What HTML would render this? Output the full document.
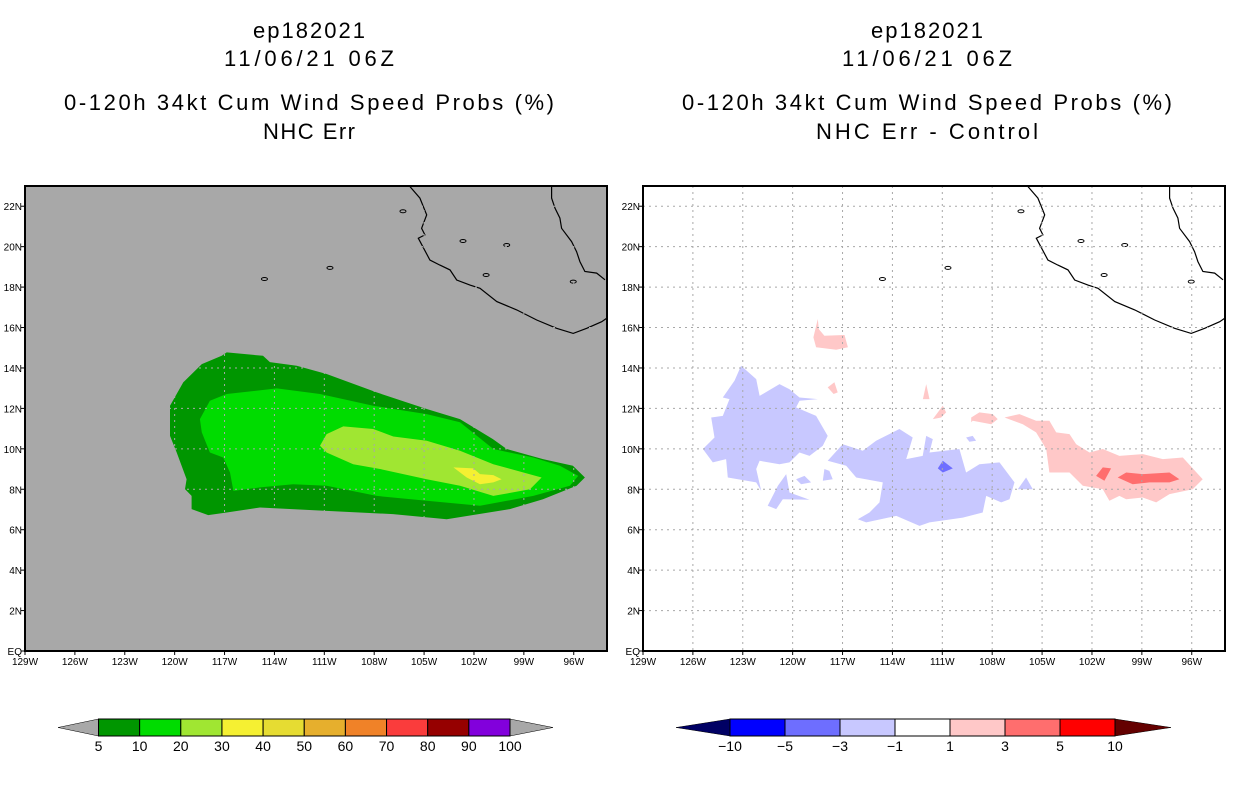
<!DOCTYPE html>
<html><head><meta charset="utf-8"><style>
html,body{margin:0;padding:0;background:#fff;}
svg{display:block;}
text{font-family:"Liberation Sans",sans-serif;fill:#000;}
</style></head><body>
<svg id="fig" width="1236" height="800" viewBox="0 0 1236 800" xmlns="http://www.w3.org/2000/svg"></svg>
<script>
// ---- data ----
const lonTicks = [-129,-126,-123,-120,-117,-114,-111,-108,-105,-102,-99,-96];
const lonLabels = ["129W","126W","123W","120W","117W","114W","111W","108W","105W","102W","99W","96W"];
const latTicks = [0,2,4,6,8,10,12,14,16,18,20,22];
const latLabels = ["EQ","2N","4N","6N","8N","10N","12N","14N","16N","18N","20N","22N"];
const probLevels = ["5","10","20","30","40","50","60","70","80","90","100"];
const probColors = ["#009600","#00dc00","#a0e632","#f5f032","#e6dc32","#e6af2d","#f08228","#fa3c3c","#960000","#8200dc"];
const diffLevels = ["-10","-5","-3","-1","1","3","5","10"];
const diffColors = ["#0000ff","#6e6eff","#c8c8ff","#ffffff","#ffc8c8","#ff6e6e","#ff0000"];
// probability contours [lon,lat]
const prob5 = [[-116.87,14.77],[-114.69,14.6],[-114.27,14.29],[-112.66,14.11],[-110.86,13.7],[-107.85,12.79],[-104.84,11.97],[-102.84,11.47],[-100.86,10.48],[-100.03,9.99],[-97.85,9.49],[-96.05,9.16],[-95.33,8.58],[-95.83,8.17],[-97.85,7.51],[-99.84,7.02],[-103.64,6.52],[-106.87,6.77],[-110.86,6.93],[-114.87,7.1],[-116.87,6.85],[-117.98,6.72],[-118.98,7.02],[-118.98,7.67],[-119.38,8.01],[-119.28,8.5],[-119.88,9.82],[-120.28,10.64],[-120.28,12.13],[-119.48,13.29],[-118.37,14.19],[-117.17,14.6]];
const prob10 = [[-117.88,12.38],[-116.87,12.71],[-113.86,12.99],[-111.26,12.71],[-108.06,12.13],[-104.84,11.72],[-102.84,11.31],[-100.84,9.99],[-98.43,9.57],[-96.83,9.16],[-95.73,8.66],[-96.23,8.17],[-98.43,7.67],[-101.64,7.18],[-104.84,7.43],[-107.85,7.67],[-110.86,8.17],[-112.87,8.25],[-114.87,8.09],[-116.47,7.92],[-116.67,8.83],[-117.08,9.57],[-117.88,9.82],[-118.37,10.81],[-118.48,11.47]];
const prob20 = [[-111.26,10.15],[-110.86,10.73],[-109.86,11.11],[-108.06,10.98],[-106.85,10.61],[-104.84,10.4],[-102.84,9.9],[-100.84,9.24],[-97.93,8.58],[-98.63,8.0],[-100.84,7.67],[-102.84,8.17],[-104.84,8.5],[-107.65,9.0],[-109.26,9.24],[-110.86,9.82]];
const prob30 = [[-103.24,9.08],[-102.04,9.03],[-101.64,8.75],[-100.84,8.7],[-100.34,8.5],[-100.84,8.34],[-101.64,8.25],[-102.44,8.58]];
// difference contours
const diffNeg1 = [
 [[-123.1,14.11],[-122.19,13.45],[-121.99,12.62],[-120.79,13.2],[-120.19,12.95],[-119.59,12.54],[-118.49,12.46],[-119.59,12.38],[-119.79,12.05],[-118.59,11.63],[-117.89,10.64],[-118.19,10.15],[-118.99,9.65],[-119.59,9.82],[-120.19,9.33],[-120.79,9.24],[-121.99,9.41],[-122.19,9.0],[-121.89,7.92],[-122.19,8.34],[-123.9,8.58],[-124.0,9.49],[-124.8,9.33],[-125.4,9.99],[-124.7,10.56],[-124.9,11.55],[-124.2,11.63],[-123.8,12.46],[-124.2,12.54],[-123.5,13.37]],
 [[-121.5,7.18],[-120.99,7.02],[-120.59,7.51],[-118.99,7.48],[-120.19,7.84],[-120.39,8.75],[-120.89,8.17]],
 [[-117.89,9.41],[-116.99,10.23],[-115.78,9.9],[-114.98,10.4],[-113.58,10.98],[-112.78,10.56],[-113.17,9.49],[-112.18,9.65],[-111.97,10.64],[-111.57,10.48],[-111.77,9.82],[-109.97,9.99],[-109.57,8.83],[-108.77,9.24],[-107.56,9.33],[-106.66,8.34],[-106.96,7.51],[-107.46,7.35],[-108.36,7.67],[-108.57,6.85],[-109.77,6.6],[-111.77,6.36],[-112.37,6.19],[-113.77,6.68],[-115.58,6.36],[-116.08,6.52],[-115.38,6.85],[-114.78,7.35],[-114.58,8.34],[-116.18,8.58],[-116.78,9.16]],
 [[-106.46,8.0],[-105.96,8.58],[-105.56,8.0]],
 [[-109.57,10.56],[-109.17,10.64],[-108.97,10.4],[-109.37,10.35]],
 [[-118.09,9.0],[-117.79,8.91],[-117.59,8.5],[-118.19,8.42]],
 [[-119.79,8.5],[-119.29,8.66],[-118.89,8.34],[-119.49,8.25]]
];
const diffNeg3 = [[[-110.97,9.41],[-110.37,9.03],[-110.97,8.83],[-111.27,9.03]]];
const diffPos1 = [
 [[-107.26,11.55],[-106.36,11.72],[-105.36,11.39],[-104.56,11.39],[-104.15,10.81],[-103.35,10.73],[-102.95,10.23],[-102.15,9.82],[-101.35,9.99],[-100.35,9.65],[-98.95,9.74],[-97.74,9.49],[-96.54,9.57],[-95.34,8.5],[-95.94,8.0],[-97.34,7.76],[-98.14,7.35],[-98.95,7.59],[-99.94,7.51],[-100.35,7.67],[-100.95,7.43],[-101.35,8.0],[-102.55,8.17],[-103.35,8.83],[-104.56,8.83],[-104.75,9.99],[-105.36,10.81],[-106.16,11.22]],
 [[-118.49,16.42],[-118.43,15.92],[-118.09,15.59],[-116.88,15.63],[-116.68,15.02],[-117.38,14.9],[-118.59,15.02],[-118.75,15.51]],
 [[-109.26,11.55],[-108.77,11.8],[-107.97,11.72],[-107.67,11.47],[-108.06,11.22],[-109.17,11.39],[-109.26,11.31]],
 [[-111.57,11.47],[-110.97,12.13],[-110.77,11.8],[-111.07,11.55]],
 [[-117.89,13.04],[-117.49,13.29],[-117.29,12.79],[-117.54,12.71]],
 [[-111.97,13.2],[-111.77,12.46],[-112.17,12.46]]
];
const diffPos3 = [
 [[-101.75,8.66],[-101.35,9.08],[-100.85,9.03],[-101.25,8.42]],
 [[-100.45,8.58],[-99.94,8.83],[-98.95,8.75],[-97.34,8.83],[-96.74,8.5],[-97.34,8.34],[-98.54,8.34],[-99.55,8.25]]
];
const coastPacific = [[-105.85,22.97],[-105.25,22.4],[-104.84,21.57],[-105.15,20.91],[-104.95,20.58],[-105.35,20.42],[-104.65,19.34],[-104.05,19.09],[-103.44,18.85],[-103.04,18.35],[-102.24,18.1],[-101.64,17.94],[-100.63,17.28],[-99.43,16.87],[-98.23,16.37],[-97.03,15.96],[-96.03,15.71],[-95.22,15.96],[-94.32,16.29],[-94.02,16.46]];
const coastGulf = [[-97.33,22.97],[-97.33,22.4],[-97.13,21.9],[-96.83,21.41],[-96.73,20.91],[-96.13,20.25],[-95.83,19.75],[-95.63,19.26],[-95.33,18.77],[-94.62,18.69],[-94.12,18.36]];
const islands = [[-106.27,21.75],[-102.66,20.28],[-101.27,18.6],[-96.03,18.27],[-100.03,20.08],[-114.6,18.4],[-110.66,18.95]];

// ---- geometry ----
const NS="http://www.w3.org/2000/svg";
const svg=document.getElementById('fig');
const LON0=-129, LON1=-94, LAT0=0, LAT1=23;
const PW=582, PH=465, PT=186;
function panelX(x0){return lon=>x0+(lon-LON0)/(LON1-LON0)*PW;}
function panelY(lat){return PT+PH-(lat-LAT0)/(LAT1-LAT0)*PH;}
function mk(tag,attrs,parent){const e=document.createElementNS(NS,tag);for(const k in attrs)e.setAttribute(k,attrs[k]);(parent||svg).appendChild(e);return e;}
function pts(arr,X){return arr.map(p=>X(p[0]).toFixed(1)+","+panelY(p[1]).toFixed(1)).join(" ");}
function txt(s,x,y,size,anchor,len,g){const t=mk('text',{x:x,y:y,'font-size':size,'text-anchor':anchor||'middle'},g);if(len){t.setAttribute('textLength',len);t.setAttribute('lengthAdjust','spacing');}t.textContent=s;return t;}

function titles(cx,l4,l4len,name){
  const g=mk('g',{});
  
  
  txt("ep182021",cx,38,22,'middle',112,g);
  txt("11/06/21 06Z",cx,66,22,'middle',170,g);
  txt("0-120h 34kt Cum Wind Speed Probs (%)",cx,110,22,'middle',490,g);
  txt(l4,cx,139,22,'middle',l4len,g);
}
titles(309,"NHC Err",92,'left-title');
titles(927,"NHC Err - Control",222,'right-title');

function panel(x0,bg,name,draw){
  const X=panelX(x0);
  const g=mk('g',{});
  
  
  mk('rect',{x:x0,y:PT,width:PW,height:PH,fill:bg},g);
  draw(g,X);
  const c1=mk('polyline',{points:pts(coastPacific,X),fill:'none',stroke:'#000','stroke-width':1.2},g);
  
  
  const c2=mk('polyline',{points:pts(coastGulf,X),fill:'none',stroke:'#000','stroke-width':1.2},g);
  
  
  islands.forEach(p=>{const e=mk('ellipse',{cx:X(p[0]),cy:panelY(p[1]),rx:3,ry:1.5,fill:'none',stroke:'#000','stroke-width':1},g);
    
    });
  lonTicks.forEach(l=>{const e=mk('line',{x1:X(l),x2:X(l),y1:PT,y2:PT+PH,stroke:'#a8a8a8','stroke-dasharray':'2,4','stroke-width':1},g);
    
    });
  latTicks.forEach(l=>{const e=mk('line',{x1:x0,x2:x0+PW,y1:panelY(l),y2:panelY(l),stroke:'#a8a8a8','stroke-dasharray':'2,4','stroke-width':1},g);
    
    });
  mk('rect',{x:x0,y:PT,width:PW,height:PH,fill:'none',stroke:'#000','stroke-width':2},g);
  lonTicks.forEach((l,i)=>{mk('line',{x1:X(l),x2:X(l),y1:PT+PH,y2:PT+PH+4,stroke:'#000'},g);
    const t=txt(lonLabels[i],X(l),PT+PH+14,10,'middle',null,g);
    
    });
  latTicks.forEach((l,i)=>{mk('line',{x1:x0-4,x2:x0,y1:panelY(l),y2:panelY(l),stroke:'#000'},g);
    const t=txt(latLabels[i],x0-3,panelY(l)+4,10,'end',null,g);
    
    });
}

panel(25,'#a8a8a8','left-map-panel',(g,X)=>{
  [[prob5,0],[prob10,1],[prob20,2],[prob30,3]].forEach(([p,i])=>{
    const e=mk('polygon',{points:pts(p,X),fill:probColors[i]},g);
    
    
  });
});
panel(643,'#ffffff','right-map-panel',(g,X)=>{
  const sets=[[diffNeg1,2,'diff-neg-1'],[diffNeg3,1,'diff-neg-3'],[diffPos1,4,'diff-pos-1'],[diffPos3,5,'diff-pos-3']];
  sets.forEach(([arr,ci,nm])=>arr.forEach(p=>{
    const e=mk('polygon',{points:pts(p,X),fill:diffColors[ci]},g);
    
    
  }));
});

function colorbar(x0,x1,tipL,tipR,colors,labels,leftCap,rightCap,name){
  const g=mk('g',{});
  
  
  const y0=719,y1=736,ym=(y0+y1)/2,w=(x1-x0)/colors.length;
  mk('polygon',{points:`${tipL},${ym} ${x0},${y0} ${x0},${y1}`,fill:leftCap,stroke:'#000','stroke-width':0.5},g);
  mk('polygon',{points:`${tipR},${ym} ${x1},${y0} ${x1},${y1}`,fill:rightCap,stroke:'#000','stroke-width':0.5},g);
  colors.forEach((c,i)=>{const r=mk('rect',{x:x0+i*w,y:y0,width:w,height:y1-y0,fill:c,stroke:'#000','stroke-width':1},g);
    
    });
  labels.forEach((s,i)=>{const t=txt(s.replace('-','\u2212'),x0+i*w,751,14,'middle',null,g);
    
    });
}
colorbar(98.5,510,58,553,probColors,probLevels,'#a8a8a8','#a8a8a8','left-colorbar');
colorbar(730,1115,676,1171,diffColors,diffLevels,'#000064','#640000','right-colorbar');
</script>
</body></html>
